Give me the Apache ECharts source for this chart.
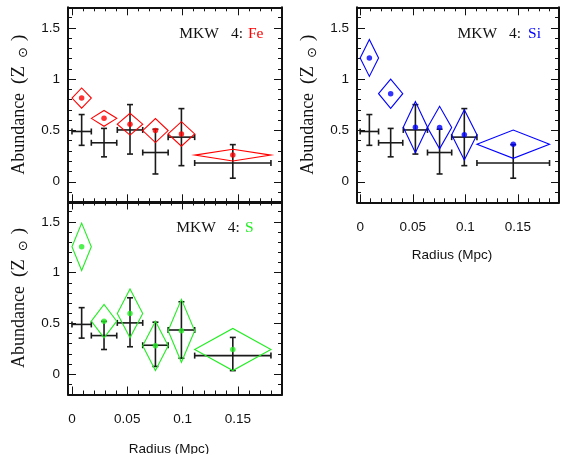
<!DOCTYPE html>
<html>
<head>
<meta charset="utf-8">
<script src="https://cdn.jsdelivr.net/npm/echarts@6/dist/echarts.min.js"></script>
<style>
  html, body { margin: 0; padding: 0; background: #ffffff; }
  #chart { width: 561px; height: 454px; }
</style>
</head>
<body>
<div id="chart"></div>
<script>
// Radial bins (Mpc): centre and half-width of each annulus
const binCenter = [0.00875, 0.029, 0.0525, 0.0755, 0.099, 0.1455];
const binHalf   = [0.00875, 0.0115, 0.0115, 0.0115, 0.012, 0.0345];

// Comparison profile, drawn as black crosses: value, upper and lower bound
const refValue = [0.49, 0.38, 0.505, 0.285, 0.435, 0.183];
const refUpper = [0.655, 0.52, 0.752, 0.512, 0.713, 0.362];
const refLower = [0.355, 0.243, 0.27, 0.076, 0.157, 0.035];

// Element abundances (Z_sun), drawn as diamonds: value and 1-sigma error
const feValue = [0.816, 0.618, 0.561, 0.499, 0.466, 0.26];
const feErr   = [0.098, 0.077, 0.106, 0.117, 0.12, 0.057];
const siValue = [1.207, 0.858, 0.532, 0.528, 0.457, 0.366];
const siErr   = [0.18, 0.143, 0.25, 0.207, 0.245, 0.138];
const sValue  = [1.254, 0.522, 0.598, 0.279, 0.427, 0.243];
const sErr    = [0.233, 0.164, 0.24, 0.243, 0.31, 0.207];

// Tick positions and labels
const xMajor = [0, 0.05, 0.1, 0.15];
const xMajorLabels = ['0', '0.05', '0.1', '0.15'];
const xMinor = [0.01, 0.02, 0.03, 0.04, 0.06, 0.07, 0.08, 0.09, 0.11, 0.12, 0.13, 0.14, 0.16, 0.17, 0.18];
const yMajor = [0, 0.5, 1, 1.5];
const yMajorLabels = ['0', '0.5', '1', '1.5'];
const yMinor = [-0.1, 0.1, 0.2, 0.3, 0.4, 0.6, 0.7, 0.8, 0.9, 1.1, 1.2, 1.3, 1.4, 1.6];

const INK = '#111111';
const SANS = 'Liberation Sans, Arial, sans-serif';
const SERIF = 'Liberation Serif, Times New Roman, serif';

const panels = [
  { left: 68,  top: 7.3,   width: 214, height: 195, xMin: -0.0036, xMax: 0.19,
    showX: false, element: 'Fe', gap: 5, color: '#ff0000', values: feValue, errs: feErr,
    tagX: 263.5, tagY: 33.5, nameGap: 46 },
  { left: 357, top: 7.3,   width: 202, height: 195, xMin: -0.003, xMax: 0.189,
    showX: true, element: 'Si', gap: 7, color: '#0000ff', values: siValue, errs: siErr,
    tagX: 541, tagY: 33.5, nameGap: 46 },
  { left: 68,  top: 201.5, width: 214, height: 193, xMin: -0.0036, xMax: 0.19,
    showX: true, element: 'S', gap: 5, color: '#22ee22', values: sValue, errs: sErr,
    tagX: 253.5, tagY: 227.5, nameGap: 48 }
];

const yMin = -0.2, yMax = 1.7;

function labelFor(values, labels) {
  return function (v) {
    for (let i = 0; i < values.length; i++) {
      if (Math.abs(values[i] - v) < 1e-9) return labels[i];
    }
    return '';
  };
}

const grids = [], xAxes = [], yAxes = [], series = [], graphics = [];

panels.forEach(function (p, g) {
  grids.push({ left: p.left, top: p.top, width: p.width, height: p.height,
               containLabel: false, outerBoundsMode: 'none' });

  // x axes: bottom major, top major, bottom minor, top minor
  const xDefs = [
    { position: 'bottom', ticks: xMajor, len: 8, line: true, labels: p.showX },
    { position: 'top',    ticks: xMajor, len: 8, line: true, labels: false },
    { position: 'bottom', ticks: xMinor, len: 4, line: false, labels: false },
    { position: 'top',    ticks: xMinor, len: 4, line: false, labels: false }
  ];
  xDefs.forEach(function (d) {
    xAxes.push({
      type: 'value', gridIndex: g, position: d.position, min: p.xMin, max: p.xMax,
      axisLine: { show: d.line, onZero: false, lineStyle: { color: INK, width: 2 } },
      axisTick: { show: true, inside: true, length: d.len, customValues: d.ticks,
                  lineStyle: { color: INK, width: 1 } },
      axisLabel: { show: d.labels, customValues: xMajor, margin: 18,
                   formatter: labelFor(xMajor, xMajorLabels),
                   color: INK, fontFamily: SANS, fontSize: 13.5 },
      splitLine: { show: false },
      name: d.labels ? 'Radius (Mpc)' : '',
      nameLocation: 'middle', nameGap: p.nameGap,
      nameTextStyle: { color: INK, fontFamily: SANS, fontSize: 13.5, padding: [0, 12, 0, 0] }
    });
  });

  // y axes: left major, right major, left minor, right minor
  const yDefs = [
    { position: 'left',  ticks: yMajor, len: 8, line: true, labels: true },
    { position: 'right', ticks: yMajor, len: 8, line: true, labels: false },
    { position: 'left',  ticks: yMinor, len: 4, line: false, labels: false },
    { position: 'right', ticks: yMinor, len: 4, line: false, labels: false }
  ];
  yDefs.forEach(function (d) {
    yAxes.push({
      type: 'value', gridIndex: g, position: d.position, min: yMin, max: yMax,
      axisLine: { show: d.line, onZero: false, lineStyle: { color: INK, width: 2 } },
      axisTick: { show: true, inside: true, length: d.len, customValues: d.ticks,
                  lineStyle: { color: INK, width: 1 } },
      axisLabel: { show: d.labels, customValues: yMajor, margin: 8,
                   formatter: labelFor(yMajor, yMajorLabels), padding: [10, 0, 0, 0],
                   color: INK, fontFamily: SANS, fontSize: 13.5 },
      splitLine: { show: false },
      name: d.labels ? 'Abundance  {p|(Z}{s|⊙}{q|)}' : '',
      nameLocation: 'middle', nameGap: 38,
      nameTextStyle: {
        color: INK, fontFamily: SERIF, fontSize: 18,
        rich: {
          p: { fontFamily: SERIF, fontSize: 19, color: INK },
          s: { fontFamily: 'DejaVu Sans', fontSize: 13, color: INK, padding: [8, 0, 0, 8] },
          q: { fontFamily: SERIF, fontSize: 19, color: INK, padding: [0, 0, 0, 6] }
        }
      }
    });
  });

  const xi = g * 4, yi = g * 4;

  // Comparison crosses
  series.push({
    type: 'custom', xAxisIndex: xi, yAxisIndex: yi, clip: false, silent: true,
    data: binCenter.map(function (x, i) {
      return [x, refValue[i], x - binHalf[i], x + binHalf[i], refLower[i], refUpper[i]];
    }),
    renderItem: function (params, api) {
      const x = api.value(0), y = api.value(1);
      const c = api.coord([x, y]);
      const l = api.coord([api.value(2), y]), r = api.coord([api.value(3), y]);
      const b = api.coord([x, api.value(4)]), t = api.coord([x, api.value(5)]);
      const cap = 3;
      const st = { stroke: '#1a1a1a', lineWidth: 1.6, fill: null };
      const seg = function (x1, y1, x2, y2) {
        return { type: 'line', shape: { x1: x1, y1: y1, x2: x2, y2: y2 }, style: st };
      };
      return { type: 'group', children: [
        seg(l[0], c[1], r[0], c[1]),
        seg(c[0], t[1], c[0], b[1]),
        seg(l[0], c[1] - cap, l[0], c[1] + cap),
        seg(r[0], c[1] - cap, r[0], c[1] + cap),
        seg(c[0] - cap, t[1], c[0] + cap, t[1]),
        seg(c[0] - cap, b[1], c[0] + cap, b[1])
      ] };
    }
  });

  // Abundance diamonds
  series.push({
    type: 'custom', xAxisIndex: xi, yAxisIndex: yi, clip: false, silent: true,
    data: binCenter.map(function (x, i) {
      return [x, p.values[i], x - binHalf[i], x + binHalf[i], p.values[i] - p.errs[i], p.values[i] + p.errs[i]];
    }),
    renderItem: function (params, api) {
      const x = api.value(0), y = api.value(1);
      const l = api.coord([api.value(2), y]), r = api.coord([api.value(3), y]);
      const b = api.coord([x, api.value(4)]), t = api.coord([x, api.value(5)]);
      return { type: 'polygon', shape: { points: [l, t, r, b] },
               style: { stroke: p.color, lineWidth: 1.1, fill: null } };
    }
  });

  // Central values
  series.push({
    type: 'scatter', xAxisIndex: xi, yAxisIndex: yi, silent: true,
    symbol: 'circle', symbolSize: 5.5,
    itemStyle: { color: p.color },
    data: binCenter.map(function (x, i) { return [x, p.values[i]]; })
  });

  // Panel tag, e.g. "MKW 4: Fe"
  graphics.push({
    type: 'text', x: p.tagX, y: p.tagY, silent: true,
    style: {
      text: '{k|MKW}{n|4:}{e|' + p.element + '}',
      align: 'right', verticalAlign: 'middle',
      rich: {
        k: { fontFamily: SERIF, fontSize: 15.5, fill: INK },
        n: { fontFamily: SERIF, fontSize: 15.5, fill: INK, padding: [0, 0, 0, 12] },
        e: { fontFamily: SERIF, fontSize: 15.5, fill: p.color, padding: [0, 0, 0, p.gap] }
      }
    }
  });
});

const chart = echarts.init(document.getElementById('chart'), null, { renderer: 'canvas' });
chart.setOption({
  animation: false,
  backgroundColor: '#ffffff',
  grid: grids,
  xAxis: xAxes,
  yAxis: yAxes,
  series: series,
  graphic: graphics
});
</script>
</body>
</html>
